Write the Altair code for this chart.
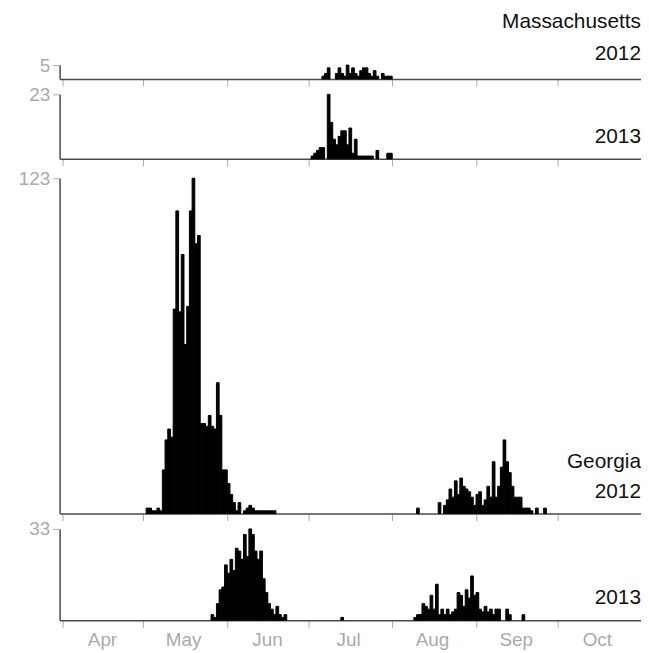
import altair as alt
import pandas as pd

FONT = "Liberation Sans"

# x axis: days since Apr 1
month_names = ["Apr", "May", "Jun", "Jul", "Aug", "Sep", "Oct"]
month_start_days = [0, 30, 61, 91, 122, 153, 183]
x_domain = [-1, 214]

# Panel labels
panel_states = ["Massachusetts", "", "Georgia", ""]
panel_years = ["2012", "2013", "2012", "2013"]
panel_max = [5, 23, 123, 33]

# daily counts: (start day, values)
ma2012_start = 96
ma2012 = [1, 2, 4, 0, 0, 2, 4, 2, 1, 5, 2, 4, 2, 1, 3, 4, 4, 2, 1, 3, 1, 0, 2, 1, 1, 1]

ma2013_start = 92
ma2013 = [1, 2, 3, 4, 4, 0, 23, 13, 7, 5, 8, 10, 10, 5, 11, 2, 7, 1, 1, 1, 1, 1, 1, 0, 3, 0, 0, 0, 2, 2]

ga2012a_start = 31
ga2012a = [2, 2, 1, 1, 2, 1, 16, 27, 31, 28, 75, 111, 74, 95, 62, 76, 111, 123, 99, 102,
           33, 33, 32, 36, 32, 31, 48, 36, 16, 16, 11, 7, 4, 1, 4, 0, 1, 2, 3, 2,
           1, 1, 1, 1, 1, 1, 1, 1]
ga2012b_start = 131
ga2012b = [2, 0, 0, 0, 0, 0, 0, 0, 4, 0, 3, 5, 9, 6, 12, 7, 13, 10, 9, 8, 6, 3, 7, 8, 3, 5,
           10, 6, 19, 6, 10, 17, 27, 19, 15, 10, 6, 6, 6, 2, 2, 2, 1, 0, 2, 0, 0, 2]

ga2013a_start = 55
ga2013a = [2, 1, 6, 11, 12, 20, 17, 22, 18, 26, 25, 22, 31, 23, 33, 31, 25, 22, 25, 15,
           10, 6, 4, 2, 5, 2, 1, 2]
ga2013b_start = 103
ga2013b = [1]
ga2013c_start = 130
ga2013c = [1, 2, 2, 6, 5, 4, 9, 4, 13, 2, 4, 2, 4, 2, 3, 4, 10, 9, 5, 11, 8, 16, 9, 10, 4,
           3, 5, 3, 4, 2, 4, 4, 0, 0, 4, 2, 0, 0, 0, 0, 2]

panel_segments = [
    [(ma2012_start, ma2012)],
    [(ma2013_start, ma2013)],
    [(ga2012a_start, ga2012a), (ga2012b_start, ga2012b)],
    [(ga2013a_start, ga2013a), (ga2013b_start, ga2013b), (ga2013c_start, ga2013c)],
]
panel_heights = [14, 65, 338, 92]

PLOT_W = 586
AXIS_DARK = "#4a4a4a"
AXIS_LIGHT = "#aaaaaa"


def bars_df(segments):
    rows = []
    for start, vals in segments:
        for i, v in enumerate(vals):
            if v > 0:
                rows.append({"d": start + i, "d1": start + i + 1, "n": v, "z": 0})
    return pd.DataFrame(rows)


label_expr = " : ".join(
    f"datum.value == {d} ? '{m}'" for d, m in zip(month_start_days, month_names)
) + " : ''"


def panel(idx, bottom):
    df = bars_df(panel_segments[idx])
    ymax = panel_max[idx]
    h = panel_heights[idx]
    xaxis = alt.Axis(
        values=month_start_days, labels=bottom, labelExpr=label_expr,
        labelOffset=40, labelFlush=False, labelFont=FONT, labelFontSize=19,
        labelColor=AXIS_LIGHT, labelPadding=3, tickSize=7, tickColor=AXIS_LIGHT,
        tickWidth=1, domainColor=AXIS_DARK, domainWidth=1.5, grid=False, title=None,
    )
    yaxis = alt.Axis(
        values=[ymax], labelFont=FONT, labelFontSize=19, labelColor=AXIS_LIGHT,
        labelPadding=3, tickSize=7, tickColor=AXIS_LIGHT, tickWidth=1,
        domainColor=AXIS_DARK, domainWidth=1.5, grid=False, title=None,
        minExtent=47, maxExtent=47,
    )
    bars = alt.Chart(df).mark_rect(color="black", stroke="black", strokeWidth=1).encode(
        x=alt.X("d:Q", scale=alt.Scale(domain=x_domain, nice=False, zero=False), axis=xaxis),
        x2="d1:Q",
        y=alt.Y("n:Q", scale=alt.Scale(domain=[0, ymax], nice=False), axis=yaxis),
        y2="z:Q",
    )
    layers = [bars]
    year_df = pd.DataFrame({"t": [panel_years[idx]]})
    state = panel_states[idx]
    if idx == 0:
        year_y = -5
        state_y = -37
    elif idx == 2:
        year_y = h - 16
        state_y = h - 46
    else:
        year_y = h - 16
        state_y = None
    txt = dict(align="right", baseline="alphabetic", font=FONT, fontSize=21, color="#111111")
    layers.append(alt.Chart(year_df).mark_text(**txt).encode(
        x=alt.value(PLOT_W), y=alt.value(year_y), text="t:N"))
    if state:
        st_df = pd.DataFrame({"t": [state]})
        layers.append(alt.Chart(st_df).mark_text(**txt).encode(
            x=alt.value(PLOT_W), y=alt.value(state_y), text="t:N"))
    return alt.layer(*layers).properties(width=PLOT_W, height=h)


top = alt.vconcat(panel(0, False), panel(1, False), spacing=-1.5)
bot = alt.vconcat(panel(2, False), panel(3, True), spacing=-1.5)

chart = alt.vconcat(top, bot, spacing=3).properties(
    padding={"left": 5, "top": 1, "right": 0, "bottom": 0},
    background="white",
).configure_view(stroke=None)

chart.save("out.html", embed_options={"renderer": "svg", "actions": False})
